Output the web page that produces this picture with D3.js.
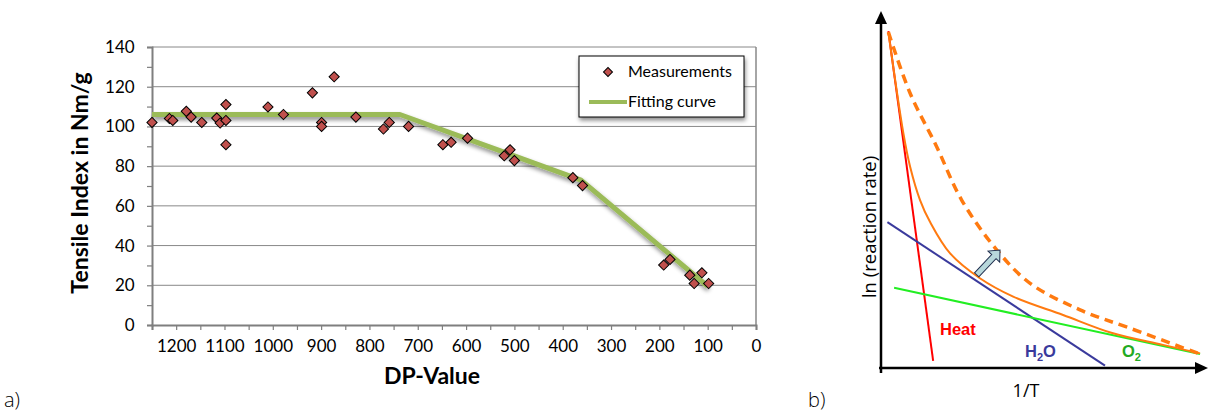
<!DOCTYPE html>
<html>
<head>
<meta charset="utf-8">
<script src="https://cdn.jsdelivr.net/npm/d3@7"></script>
<style>
  body { margin: 0; background: #fff; }
  svg { display: block; }
</style>
</head>
<body>
<script>
// a) tensile index vs DP
const dpValues = [1250, 1214, 1207, 1179, 1169, 1147, 1116, 1109, 1097, 1097, 1097, 1010, 978, 918, 899, 899, 873, 828, 771, 759, 719, 648, 631, 597, 521, 509, 500, 379, 359, 191, 178, 137, 128, 112, 98];
const tensileValues = [102, 104, 103, 107.6, 104.7, 102, 104.2, 101.7, 111, 103, 90.8, 109.8, 106, 116.9, 102, 100, 125, 104.7, 98.7, 102, 100, 90.8, 92, 94.1, 85.2, 88.2, 82.8, 74.2, 70.2, 30.2, 33, 25.1, 20.9, 26.3, 20.9];
const fitDp = [1250, 737, 362, 100];
const fitTensile = [106, 106, 73, 19.5];
const xTicks = [1200, 1100, 1000, 900, 800, 700, 600, 500, 400, 300, 200, 100, 0];
const yTicks = [0, 20, 40, 60, 80, 100, 120, 140];

// b) ln(rate) vs 1/T, schematic units 0..100
const heatLine = [[2.3, 99.1], [16.3, 2.1]];
const h2oLine = [[2.0, 42.9], [70, 0.7]];
const o2Line = [[4.1, 23.6], [99.7, 4.1]];
const totalCurve = [[2.3, 98.8], [7.0, 69.0], [9.1, 59.2], [12.2, 49.4], [15.3, 43.0], [21.6, 33.7], [30.9, 26.4], [41.3, 21.0], [56.9, 15.6], [72.5, 10.2], [88.1, 6.8], [99.7, 4.3]];
const shiftedCurve = [[2.3, 98.8], [9.1, 80.8], [17.4, 65.1], [25.2, 49.4], [36.2, 34.7], [46.6, 24.9], [62.2, 17.1], [77.8, 11.7], [99.7, 4.1]];
const shiftArrow = [[29.9, 27.4], [37.2, 34.7]];

const width = 1210, height = 412;
const svg = d3.select('body').append('svg')
  .attr('width', width)
  .attr('height', height);

const defs = svg.append('defs');
const shadow = defs.append('filter').attr('id', 'shadow')
  .attr('x', '-10%').attr('y', '-10%').attr('width', '130%').attr('height', '150%');
shadow.append('feDropShadow')
  .attr('dx', 1).attr('dy', 3).attr('stdDeviation', 2)
  .attr('flood-color', '#000').attr('flood-opacity', 0.45);

// ---------- chart a ----------
const gridColor = '#888',
      labelFont = 'Lato, "Open Sans", sans-serif';

const xScale = d3.scaleLinear().domain([1250, 0]).range([152, 756]),
      yScale = d3.scaleLinear().domain([0, 140]).range([325, 47]);

const a = svg.append('g');

a.append('g')
  .selectAll('line')
  .data(yTicks.slice(1))
  .enter()
  .append('line')
  .attr('x1', xScale(1250)).attr('x2', xScale(0))
  .attr('y1', d => yScale(d)).attr('y2', d => yScale(d))
  .attr('stroke', gridColor).attr('stroke-width', 1);

// plot frame right side
a.append('line')
  .attr('x1', xScale(0)).attr('x2', xScale(0))
  .attr('y1', yScale(0)).attr('y2', yScale(140))
  .attr('stroke', gridColor).attr('stroke-width', 1.5);

const xAxis = d3.axisBottom(xScale)
  .tickValues(d3.range(0, 1251, 50))
  .tickSize(5)
  .tickFormat(d => xTicks.includes(d) ? d : '');

const yAxis = d3.axisLeft(yScale)
  .tickValues(d3.range(0, 141, 10))
  .tickSize(5)
  .tickFormat(d => yTicks.includes(d) ? d : '');

const gx = a.append('g')
  .attr('transform', 'translate(0,' + yScale(0) + ')')
  .call(xAxis);
const gy = a.append('g')
  .attr('transform', 'translate(' + xScale(1250) + ',0)')
  .call(yAxis);

[gx, gy].forEach(g => {
  g.select('.domain').attr('stroke', '#7f7f7f').attr('stroke-width', 2);
  g.selectAll('.tick line').attr('stroke', '#7f7f7f').attr('stroke-width', 1.2);
  g.selectAll('.tick text')
    .attr('fill', '#000')
    .style('font-family', labelFont)
    .style('font-size', '17px');
});
gx.selectAll('.tick text').attr('dy', '1.1em');
gy.selectAll('.tick text').attr('dx', '-0.55em');

const fitLine = d3.line()
  .x(d => xScale(d[0]))
  .y(d => yScale(d[1]));

a.append('path')
  .datum(d3.zip(fitDp, fitTensile))
  .attr('d', fitLine)
  .attr('fill', 'none')
  .attr('stroke', '#9bbb59')
  .attr('stroke-width', 5)
  .attr('stroke-linejoin', 'round')
  .attr('filter', 'url(#shadow)');

const diamond = d3.symbol().type(d3.symbolSquare).size(52);

a.append('g')
  .selectAll('path')
  .data(d3.zip(dpValues, tensileValues))
  .enter()
  .append('path')
  .attr('d', diamond)
  .attr('transform', d => 'translate(' + xScale(d[0]) + ',' + yScale(d[1]) + ') rotate(45)')
  .attr('fill', '#c0504d')
  .attr('stroke', '#000')
  .attr('stroke-width', 1);

a.append('text')
  .attr('transform', 'translate(88,183) rotate(-90)')
  .attr('text-anchor', 'middle')
  .style('font-family', labelFont)
  .style('font-weight', 'bold')
  .style('font-size', '23px')
  .text('Tensile Index in Nm/g');

a.append('text')
  .attr('x', 432).attr('y', 384)
  .attr('text-anchor', 'middle')
  .style('font-family', labelFont)
  .style('font-weight', 'bold')
  .style('font-size', '23px')
  .text('DP-Value');

// legend
const legend = a.append('g').attr('transform', 'translate(579,56)');
legend.append('rect')
  .attr('width', 165).attr('height', 61)
  .attr('fill', '#fff').attr('stroke', '#000').attr('stroke-width', 1)
  .attr('filter', 'url(#shadow)');
legend.append('path')
  .attr('d', d3.symbol().type(d3.symbolSquare).size(40))
  .attr('transform', 'translate(29,16) rotate(45)')
  .attr('fill', '#c0504d').attr('stroke', '#000');
legend.append('line')
  .attr('x1', 10).attr('x2', 48).attr('y1', 46).attr('y2', 46)
  .attr('stroke', '#9bbb59').attr('stroke-width', 4);
legend.selectAll('text.lg')
  .data(['Measurements', 'Fitting curve'])
  .enter()
  .append('text')
  .attr('x', 49)
  .attr('y', (d, i) => 21 + i * 30)
  .style('font-family', labelFont)
  .style('font-size', '16px')
  .text(d => d);

// ---------- chart b ----------
const bx = d3.scaleLinear().domain([0, 100]).range([881, 1201]),
      by = d3.scaleLinear().domain([0, 100]).range([368, 28]);

const b = svg.append('g');

b.append('line')
  .attr('x1', 881).attr('x2', 881).attr('y1', 373).attr('y2', 22)
  .attr('stroke', '#000').attr('stroke-width', 2.5);
b.append('path').attr('d', 'M875,24 L881,11 L887,24 Z').attr('fill', '#000');
b.append('line')
  .attr('x1', 879).attr('x2', 1198).attr('y1', 368).attr('y2', 368)
  .attr('stroke', '#000').attr('stroke-width', 2.5);
b.append('path').attr('d', 'M1195,362 L1208,368 L1195,374 Z').attr('fill', '#000');

const straight = d3.line().x(d => bx(d[0])).y(d => by(d[1]));
const smooth = d3.line().x(d => bx(d[0])).y(d => by(d[1])).curve(d3.curveCatmullRom);

[[heatLine, '#ff0000'], [h2oLine, '#3a3a9c'], [o2Line, '#22ee22']].forEach(([pts, col]) => {
  b.append('path')
    .datum(pts)
    .attr('d', straight)
    .attr('fill', 'none')
    .attr('stroke', col)
    .attr('stroke-width', 2);
});

b.append('path')
  .datum(totalCurve)
  .attr('d', smooth)
  .attr('fill', 'none')
  .attr('stroke', '#ff7a10')
  .attr('stroke-width', 2);

b.append('path')
  .datum(shiftedCurve)
  .attr('d', smooth)
  .attr('fill', 'none')
  .attr('stroke', '#ff7a10')
  .attr('stroke-width', 3.5)
  .attr('stroke-dasharray', '9,6');

// block arrow showing the shift
const p0 = [bx(shiftArrow[0][0]), by(shiftArrow[0][1])],
      p1 = [bx(shiftArrow[1][0]), by(shiftArrow[1][1])],
      len = Math.hypot(p1[0] - p0[0], p1[1] - p0[1]),
      ang = Math.atan2(p1[1] - p0[1], p1[0] - p0[0]) * 180 / Math.PI;
b.append('path')
  .attr('transform', 'translate(' + p0[0] + ',' + p0[1] + ') rotate(' + ang + ')')
  .attr('d', 'M0,-3 L' + (len - 9) + ',-3 L' + (len - 9) + ',-8 L' + len + ',0 L' + (len - 9) + ',8 L' + (len - 9) + ',3 L0,3 Z')
  .attr('fill', '#b7d7db')
  .attr('stroke', '#1f2d4d')
  .attr('stroke-width', 1);

const bLabels = [
  { text: 'Heat', x: 940, y: 335, color: '#ff0000' },
  { text: 'H', sub: '2', tail: 'O', x: 1025, y: 357, color: '#3a3a9c' },
  { text: 'O', sub: '2', tail: '', x: 1122, y: 357, color: '#22aa22' }
];
bLabels.forEach(l => {
  const t = b.append('text')
    .attr('x', l.x).attr('y', l.y)
    .attr('fill', l.color)
    .style('font-family', '"Liberation Sans", Arial, sans-serif')
    .style('font-weight', 'bold')
    .style('font-size', '16.5px')
    .text(l.text);
  if (l.sub) {
    t.append('tspan').attr('dy', 4).style('font-size', '11px').text(l.sub);
    if (l.tail) t.append('tspan').attr('dy', -4).text(l.tail);
  }
});

b.append('text')
  .attr('x', 1026).attr('y', 397)
  .attr('text-anchor', 'middle')
  .style('font-family', '"Open Sans", "DejaVu Sans", sans-serif')
  .style('font-size', '18px')
  .text('1/T');

b.append('text')
  .attr('transform', 'translate(876,227) rotate(-90)')
  .attr('text-anchor', 'middle')
  .style('font-family', '"Open Sans", "DejaVu Sans", sans-serif')
  .style('font-size', '18.5px')
  .text('ln (reaction rate)');

// panel letters
svg.selectAll('text.panel')
  .data([['a)', 4], ['b)', 808]])
  .enter()
  .append('text')
  .attr('x', d => d[1]).attr('y', 407)
  .style('font-family', '"Open Sans", sans-serif')
  .style('font-weight', 300)
  .style('font-size', '20px')
  .text(d => d[0]);
</script>
</body>
</html>
